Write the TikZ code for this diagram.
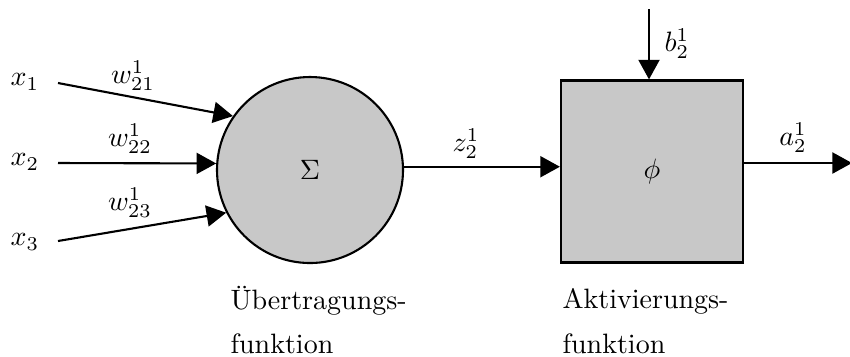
\documentclass[tikz,border=0pt]{standalone}
\usetikzlibrary{arrows.meta}
\definecolor{boxgray}{HTML}{C8C8C8}
\begin{document}
\begin{tikzpicture}[x=0.357pt,y=-0.357pt,
  conn/.style={line width=0.75pt,-{Triangle[length=7pt,width=7.5pt]}},
  lbl/.style={inner sep=0pt},
  caption/.style={inner sep=0pt,anchor=west}]
\useasboundingbox (0,0) rectangle (850,356);
% main shapes
\node[circle,draw,line width=0.75pt,fill=boxgray,minimum size={186*0.357pt},inner sep=0pt] (s) at (310,170) {$\Sigma$};
\node[rectangle,draw,line width=0.8pt,fill=boxgray,minimum size={182*0.357pt},inner sep=0pt] (q) at (652,171.5) {$\phi$};
% inputs
\node[lbl] (x1) at (25,82) {$x_1$};
\node[lbl] (x2) at (25,162) {$x_2$};
\node[lbl] (x3) at (25,242) {$x_3$};
\coordinate (i1) at (58,83);
\coordinate (i2) at (58,163);
\coordinate (i3) at (58,241);
\draw[conn] (i1) -- (s.145);
\draw[conn] (i2) -- (s.176);
\draw[conn] (i3) -- (s.207);
\node[lbl] (w1) at (133,76) {$w^1_{21}$};
\node[lbl] (w2) at (130,139) {$w^1_{22}$};
\node[lbl] (w3) at (130,203) {$w^1_{23}$};
% sum to activation
\draw[conn] (s.2) -- (s.2 -| q.west);
\node[lbl] (z) at (466,144) {$z^1_2$};
% bias
\coordinate (b0) at (649,9);
\draw[conn] (b0) -- (b0 |- q.north);
\node[lbl] (b) at (677,44) {$b^1_2$};
% output
\coordinate (o) at (852,163);
\draw[conn] (o -| q.east) -- (o);
\node[lbl] (a) at (793,138) {$a^1_2$};
% captions
\node[caption] (c1) at (230,301) {Übertragungs-};
\node[caption] (c2) at (230,344) {funktion};
\node[caption] (c3) at (562,301) {Aktivierungs-};
\node[caption] (c4) at (562,344) {funktion};
\end{tikzpicture}
\end{document}
